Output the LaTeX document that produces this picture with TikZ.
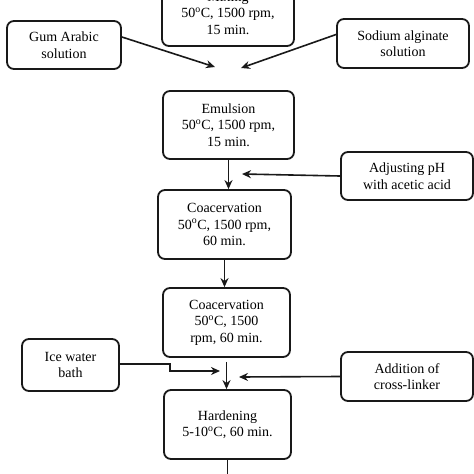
\documentclass[tikz,border=0pt]{standalone}
\usepackage{fontspec}
\setmainfont{Liberation Serif}
\usetikzlibrary{arrows.meta}
\newcommand{\dg}{\textsuperscript{o}}
\tikzset{stepbox/.style={draw=black!90, line width=1.8pt, rounded corners=7pt, align=center, inner sep=0pt, font=\fontsize{14}{16.5}\selectfont}}
\tikzset{flow/.style={line width=1.6pt, color=black!90, -{Stealth[length=9pt,width=8pt]}}}

\begin{document}
\begin{tikzpicture}[x=1pt, y=-1pt]
        \useasboundingbox (0,0) rectangle (474,474);
        \clip (0,0) rectangle (474,474);
        \fill[white] (0,0) rectangle (474,474);

        \node[stepbox, minimum width=132pt, minimum height=66pt] (mix) at (228,13) {Mixing\\50\dg C, 1500 rpm,\\15 min.};
        \node[stepbox, minimum width=114pt, minimum height=48pt] (gum) at (64,45) {Gum Arabic\\solution};
        \node[stepbox, minimum width=132pt, minimum height=49pt] (alg) at (403,43.5) {Sodium alginate\\solution};
        \node[stepbox, minimum width=131pt, minimum height=68pt] (emul) at (228.5,125) {Emulsion\\50\dg C, 1500 rpm,\\15 min.};
        \node[stepbox, minimum width=132pt, minimum height=48pt] (ph) at (407,176) {Adjusting pH\\with acetic acid};
        \node[stepbox, minimum width=133pt, minimum height=69pt] (coaca) at (224.5,224.5) {Coacervation\\50\dg C, 1500 rpm,\\60 min.};
        \node[stepbox, minimum width=127pt, minimum height=69pt] (coacb) at (226.5,322.5) {Coacervation\\50\dg C, 1500\\rpm, 60 min.};
        \node[stepbox, minimum width=97pt, minimum height=52pt] (ice) at (70.5,365) {Ice water\\bath};
        \node[stepbox, minimum width=132pt, minimum height=49pt] (link) at (407,376.5) {Addition of\\cross-linker};
        \node[stepbox, minimum width=127pt, minimum height=69pt] (hard) at (227.5,424.5) {Hardening\\5-10\dg C, 60 min.};

        \coordinate (mixl) at (215,67);
        \coordinate (mixr) at (241,68);
        \coordinate (phin) at (242,174);
        \coordinate (icebend) at (170,364);
        \coordinate (icein) at (220,371);
        \coordinate (linkin) at (239,377);
        \coordinate (out) at (225,490);

        \draw[flow] ([yshift=8pt]gum.east) -- (mixl);
        \draw[flow] ([yshift=9pt]alg.west) -- (mixr);
        \draw[flow] (emul.south) -- (emul.south |- coaca.north);
        \draw[flow] (ph.west) -- (phin);
        \draw[flow] (coaca.south) -- (coaca.south |- coacb.north);
        \draw[flow] ([yshift=-4pt]coacb.south) -- (coacb.south |- hard.north);
        \draw[flow] (ice.east |- icebend) -- (icebend) |- (icein);
        \draw[flow] (link.west) -- (linkin);
        \draw[line width=1.6pt, color=black!90] (hard.south) -- (hard.south |- out);
\end{tikzpicture}
\end{document}
